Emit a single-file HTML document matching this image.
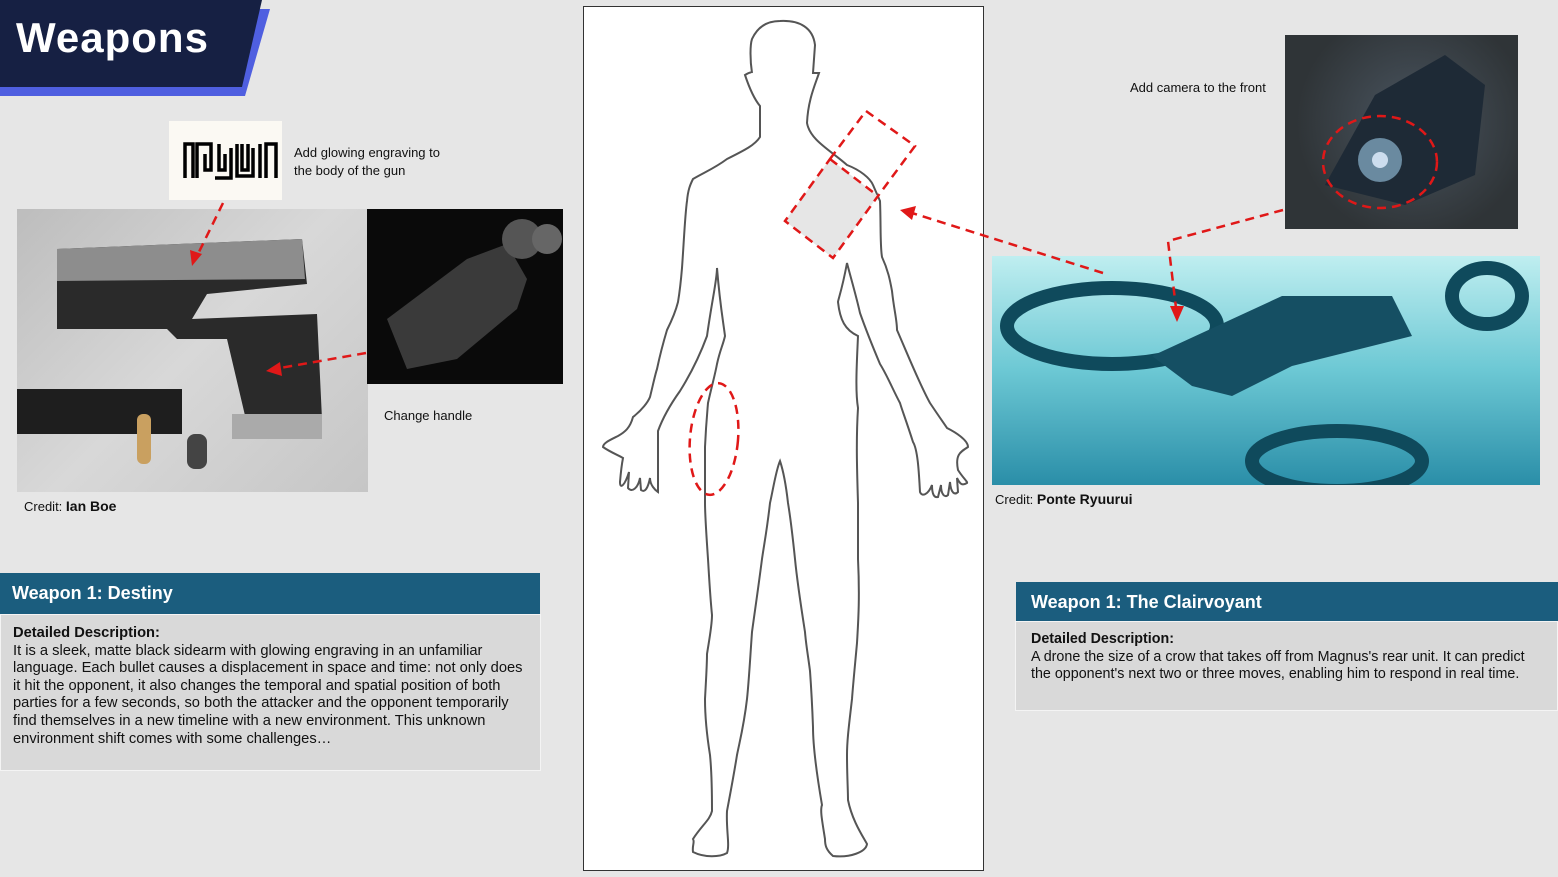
<!DOCTYPE html>
<html><head><meta charset="utf-8"><style>
body{margin:0;width:1558px;height:877px;background:#e6e6e6;position:relative;overflow:hidden;font-family:"Liberation Sans",sans-serif;}
.a{position:absolute}
.lbl{font-size:13px;color:#111;line-height:18px}
.hd{background:#1b5d7e;color:#fff;font-weight:bold;font-size:18px;padding-left:12px;box-sizing:border-box}
.bd{background:#d9d9d9;border:1px solid #f4f4f4;box-sizing:border-box;font-size:14.3px;line-height:17.6px;color:#111;padding:10px 12px}
</style></head><body>
<div class="a" style="left:0;top:0;width:270px;height:96px;background:#4f5fe0;clip-path:polygon(0 9px,270px 9px,245px 96px,0 96px)"></div>
<div class="a" style="left:0;top:0;width:262px;height:87px;background:#162043;clip-path:polygon(0 0,262px 0,242px 87px,0 87px)"></div>
<div class="a" style="left:16px;top:14px;font-size:42px;font-weight:bold;color:#fff;letter-spacing:1px">Weapons</div>

<div class="a" style="left:169px;top:121px;width:113px;height:79px;background:#fbf9f3"></div>
<svg class="a" style="left:182px;top:140px" width="96" height="42" viewBox="0 0 96 42"><g fill="none" stroke="#000" stroke-width="3.5"><path d="M3 38V4h8v34M15 38V4h14v26h-6V14"/><path d="M33 38h16V8M37 4v26h6V14"/><path d="M55 4v32h16V8M60 4v26h6V4"/><path d="M78 38V4M84 38V4h10v34"/></g></svg>
<div class="a lbl" style="left:294px;top:144px">Add glowing engraving to<br>the body of the gun</div>

<div class="a" style="left:17px;top:209px;width:351px;height:283px;background:linear-gradient(135deg,#bdbdbd,#d8d8d8 50%,#c6c6c6)"></div>
<svg class="a" style="left:17px;top:209px" width="351" height="283"><path d="M40 40L285 30 290 75 190 85 175 110 300 105 305 210 230 215 210 130 160 130 150 120 40 120Z" fill="#2a2a2a"/><path d="M40 40L285 30 288 70 40 72Z" fill="#8d8d8d"/><rect x="0" y="180" width="165" height="45" fill="#1e1e1e"/><rect x="120" y="205" width="14" height="50" rx="6" fill="#c9a060"/><rect x="170" y="225" width="20" height="35" rx="8" fill="#444"/><rect x="215" y="205" width="90" height="25" fill="#aaa"/></svg>
<div class="a" style="left:367px;top:209px;width:196px;height:175px;background:#0a0a0a"></div>
<svg class="a" style="left:367px;top:209px" width="196" height="175"><path d="M20 110L100 50 140 35 160 70 150 100 90 150 40 160Z" fill="#3a3a3a"/><circle cx="155" cy="30" r="20" fill="#555"/><circle cx="180" cy="30" r="15" fill="#666"/></svg>
<div class="a lbl" style="left:384px;top:407px">Change handle</div>
<div class="a lbl" style="left:24px;top:497px">Credit: <b style="font-size:14px">Ian Boe</b></div>

<div class="a" style="left:583px;top:6px;width:401px;height:865px;background:#fff;border:1.5px solid #333;box-sizing:border-box"></div>

<div class="a" style="left:1285px;top:35px;width:233px;height:194px;background:radial-gradient(circle at 55% 45%,#4a5560,#2f3437 70%)"></div>
<svg class="a" style="left:1285px;top:35px" width="233" height="194"><path d="M40 150L90 60 160 20 200 50 190 140 120 170Z" fill="#1e2a36"/><circle cx="95" cy="125" r="22" fill="#6a8aa0"/><circle cx="95" cy="125" r="8" fill="#cde"/></svg>
<div class="a lbl" style="left:1130px;top:79px">Add camera to the front</div>
<div class="a" style="left:992px;top:256px;width:548px;height:229px;background:linear-gradient(180deg,#bfeef0,#6cc8d4 50%,#2a8ea8)"></div>
<svg class="a" style="left:992px;top:256px" width="548" height="229"><g fill="none" stroke="#0f4a5c" stroke-width="14"><ellipse cx="120" cy="70" rx="105" ry="38"/><ellipse cx="345" cy="205" rx="85" ry="30"/><ellipse cx="495" cy="40" rx="35" ry="28"/></g><path d="M160 100L290 40 400 40 420 80 300 110 240 140 200 130Z" fill="#154f63"/></svg>
<div class="a lbl" style="left:995px;top:490px">Credit: <b style="font-size:14px">Ponte Ryuurui</b></div>

<svg class="a" style="left:0;top:0" width="1558" height="877">
<path d="M780 21C800 20 813 28 815 45L813 73 819 73C815 85 808 100 807 123C810 140 830 150 847 165C860 170 870 178 873 185L880 201C881 225 880 245 882 257C888 270 890 280 892 291C894 310 897 320 897 330C910 360 920 385 930 403C938 415 945 425 947 428C955 432 968 440 968 447C960 452 955 455 958 470C963 478 968 482 967 483C962 486 960 484 957 478L958 492C955 495 951 494 950 482L948 495C945 498 941 495 941 485L938 497C934 498 932 494 932 485C928 495 922 497 920 492C919 475 918 450 913 442C906 420 902 410 900 403C893 390 887 375 880 364C872 345 866 330 860 313C856 295 850 275 847 263C842 290 838 300 838 302C840 320 845 330 858 336C857 360 855 390 858 408C856 440 857 470 858 503C858 530 858 545 858 559C860 600 858 625 857 643C855 665 853 685 852 699C849 725 847 740 847 755C847 775 848 790 848 800C852 820 862 835 867 844C866 852 850 858 833 856C826 850 825 845 825 839C822 820 820 810 822 805C816 770 813 745 813 727C812 700 811 685 810 671C808 655 806 645 805 632C800 600 797 580 795 559C792 530 790 515 788 503C786 485 783 470 780 461C776 470 773 490 770 503C767 530 764 545 762 559C758 590 755 610 752 632C750 660 749 680 747 699C744 725 740 740 737 755C733 780 729 800 727 811C726 830 730 845 727 853C720 857 705 858 693 852C692 845 695 842 693 839C702 825 710 820 712 811C712 780 711 765 710 755C706 730 705 715 705 699C706 680 707 665 707 654C710 635 712 625 712 615C710 595 709 575 708 559C706 530 705 515 705 503C705 480 705 460 705 447C706 425 707 415 708 403C712 385 715 375 717 364C720 350 723 345 725 336C723 320 720 305 717 268C717 280 712 300 707 336C700 355 690 375 680 391C670 405 662 420 658 431L658 492C655 490 650 485 650 478C648 488 645 493 641 490L640 478C638 488 632 493 628 488L629 472C625 485 620 490 620 482C621 470 622 463 623 458C618 455 610 452 603 447C603 443 610 440 618 436C625 432 630 428 633 417C642 410 648 402 650 397C653 385 655 375 657 369C661 350 664 340 667 330C672 320 676 310 678 302C680 290 681 280 682 268C684 240 685 215 687 201C688 190 690 185 693 179C705 172 715 168 727 159C745 150 755 145 760 137L760 106C755 100 750 90 745 75C750 72 752 72 752 73C750 60 750 45 752 39C758 26 768 21 780 21Z" fill="none" stroke="#555" stroke-width="2"/>
<path d="M830 159L878 196 833 258 785 221Z" fill="#e6e6e6"/>
<g fill="none" stroke="#e01818" stroke-width="2.5" stroke-dasharray="9,6">
<path d="M830 159L866 111 915 146 878 196 833 258 785 221Z"/>
<path d="M830 159L878 196"/>
<ellipse cx="714" cy="439" rx="24" ry="56" transform="rotate(5 714 439)"/>
<path d="M1103 273L912 213"/>
<path d="M223 203L196 258"/>
<path d="M366 353L280 368"/>
<path d="M1283 210L1168 241 1176 308"/>
<ellipse cx="1380" cy="162" rx="57" ry="46"/>
</g>
<g fill="#e01818"><path d="M900 210L916 206 912 220Z"/><path d="M192 266L190 250 202 254Z"/><path d="M266 371L280 362 282 376Z"/><path d="M1177 322L1170 306 1184 306Z"/></g>
</svg>

<div class="a hd" style="left:0;top:573px;width:540px;height:41px;line-height:41px">Weapon 1: Destiny</div>
<div class="a bd" style="left:0;top:614px;width:541px;height:157px;padding-right:16px;font-size:14.7px"><b>Detailed Description:</b><br>It is a sleek, matte black sidearm with glowing engraving in an unfamiliar language. Each bullet causes a displacement in space and time: not only does it hit the opponent, it also changes the temporal and spatial position of both parties for a few seconds, so both the attacker and the opponent temporarily find themselves in a new timeline with a new environment. This unknown environment shift comes with some challenges…</div>
<div class="a hd" style="left:1016px;top:582px;width:542px;height:39px;line-height:41px;padding-left:15px">Weapon 1: The Clairvoyant</div>
<div class="a bd" style="left:1015px;top:621px;width:543px;height:90px;padding-left:15px;padding-top:9px"><b>Detailed Description:</b><br>A drone the size of a crow that takes off from Magnus's rear unit. It can predict the opponent's next two or three moves, enabling him to respond in real time.</div>
</body></html>
